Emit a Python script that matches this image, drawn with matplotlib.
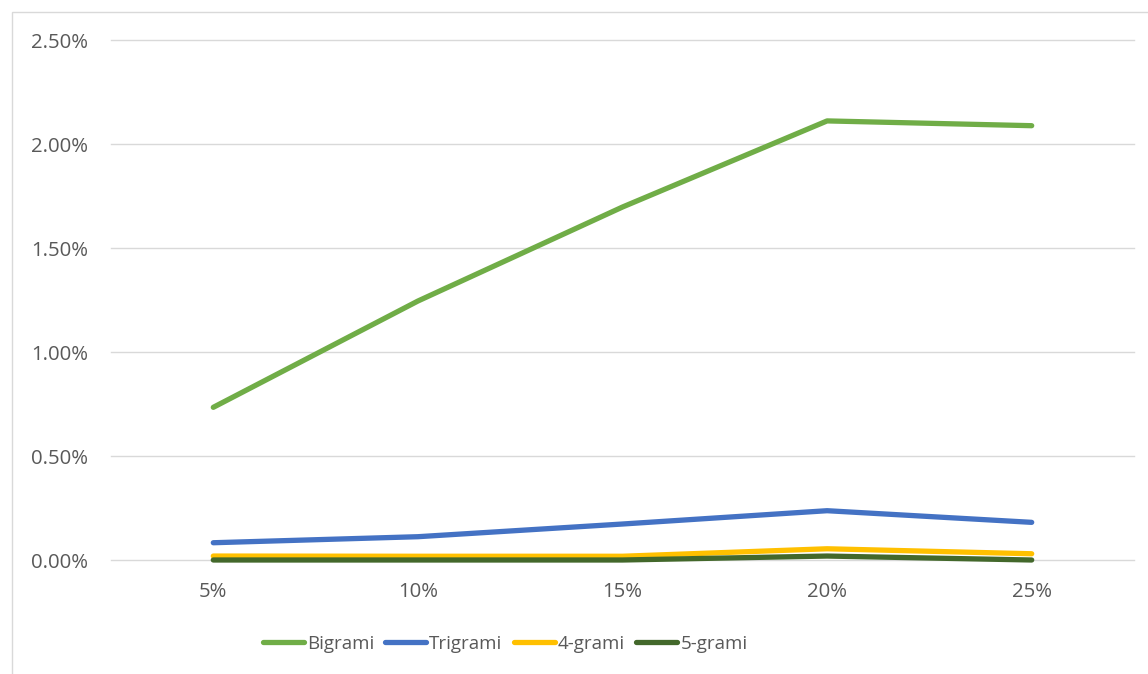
import matplotlib
matplotlib.use("Agg")
import matplotlib.pyplot as plt
from matplotlib.patches import Rectangle
from matplotlib.ticker import FuncFormatter

categories = ["5%", "10%", "15%", "20%", "25%"]
bigrami = [0.734, 1.245, 1.697, 2.111, 2.088]
trigrami = [0.083, 0.112, 0.173, 0.237, 0.181]
quadgrami = [0.019, 0.018, 0.018, 0.054, 0.030]
pentagrami = [0.0, 0.0, 0.0, 0.019, 0.0]
series_names = ["Bigrami", "Trigrami", "4-grami", "5-grami"]
colors = ["#70AD47", "#4472C4", "#FFC000", "#43682B"]
yticks = [0, 0.005, 0.01, 0.015, 0.02, 0.025]

plt.rcParams['font.family'] = ['Open Sans', 'DejaVu Sans']

fig = plt.figure(figsize=(11.48, 6.74), dpi=100)
fig.patch.set_facecolor("white")
# outer chart border
fig.patches.append(Rectangle((12/1148, -0.1), 1.2, 1 - 11.5/674 + 0.1,
                             transform=fig.transFigure, fill=False,
                             edgecolor="#D9D9D9", linewidth=1.0))

ax = fig.add_axes([111/1148, 1 - 560/674, (1134 - 111)/1148, (560 - 40)/674])
for yv in yticks:
    ax.axhline(yv, color="#D9D9D9", linewidth=1.0, zorder=0, clip_on=False)

x = list(range(len(categories)))
for vals, name, c in zip([bigrami, trigrami, quadgrami, pentagrami], series_names, colors):
    ax.plot(x, [v / 100 for v in vals], color=c, linewidth=3.8, label=name,
            solid_capstyle="round", solid_joinstyle="round", zorder=3, clip_on=False)

ax.set_xlim(-0.5, len(categories) - 0.5)
ax.set_ylim(0, 0.025)
ax.set_yticks(yticks)
ax.yaxis.set_major_formatter(FuncFormatter(lambda v, p: f"{v*100:.2f}%"))
ax.set_xticks(x)
ax.set_xticklabels(categories)
for s in ax.spines.values():
    s.set_visible(False)
ax.tick_params(axis="both", length=0, labelsize=14.7, colors="#595959")
ax.tick_params(axis="y", pad=16.5)
ax.tick_params(axis="x", pad=16)

leg = fig.legend(loc="center", bbox_to_anchor=(505/1148, 1 - 644/674), ncol=4,
                 frameon=False, fontsize=13.5, handlelength=2.2, handletextpad=0.15,
                 columnspacing=0.6)
for t in leg.get_texts():
    t.set_color("#595959")
for h in leg.legend_handles:
    h.set_solid_capstyle("round")

fig.savefig("out.png", dpi=100, facecolor="white")
